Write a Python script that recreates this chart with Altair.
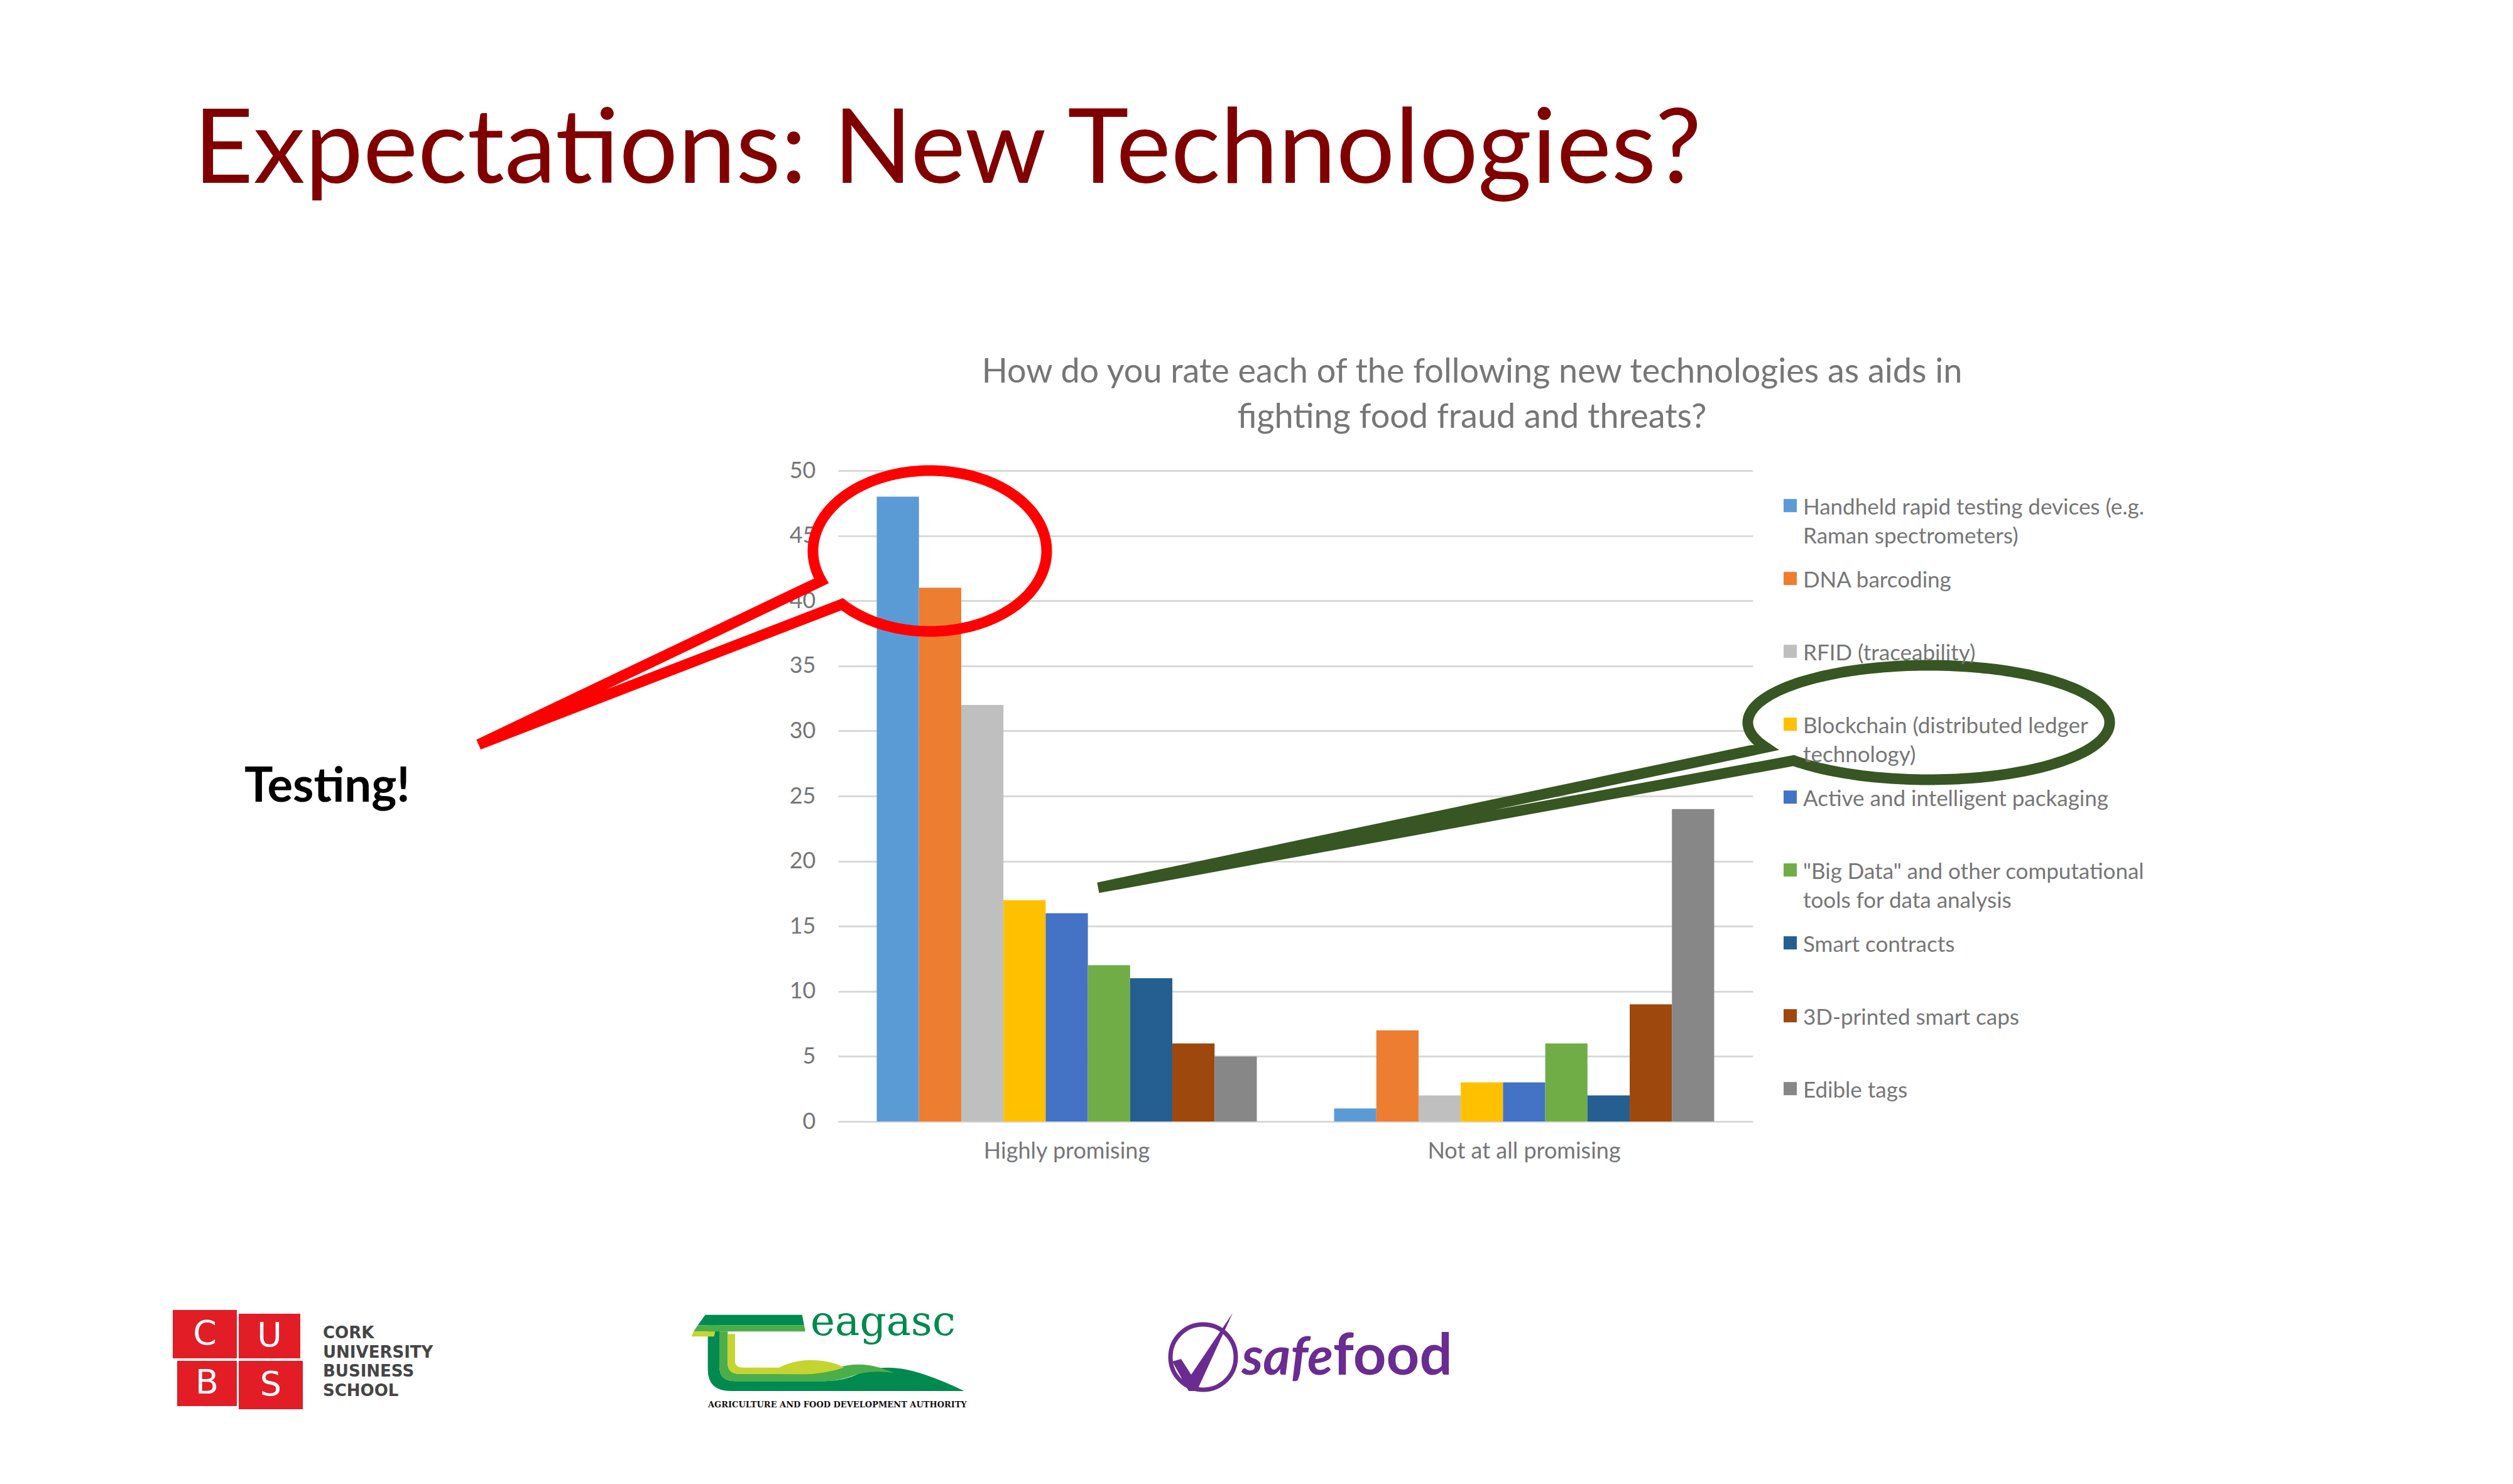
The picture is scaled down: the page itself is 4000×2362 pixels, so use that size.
import json
import math
import altair as alt
import pandas as pd

# ---------------- data ----------------
CATEGORIES = ["Highly promising", "Not at all promising"]
TECHNOLOGIES = [
    "Handheld rapid testing devices (e.g. Raman spectrometers)",
    "DNA barcoding",
    "RFID (traceability)",
    "Blockchain (distributed ledger technology)",
    "Active and intelligent packaging",
    "\"Big Data\" and other computational tools for data analysis",
    "Smart contracts",
    "3D-printed smart caps",
    "Edible tags",
]
HIGHLY_PROMISING = [48, 41, 32, 17, 16, 12, 11, 6, 5]
NOT_AT_ALL_PROMISING = [1, 7, 2, 3, 3, 6, 2, 9, 24]
COLORS = ["#5B9BD5", "#ED7D31", "#BFBFBF", "#FFC000", "#4472C4",
          "#70AD47", "#255E91", "#9E480E", "#878787"]
Y_TICKS = list(range(0, 51, 5))
LEGEND_WRAP = {
    TECHNOLOGIES[0]: ["Handheld rapid testing devices (e.g.", "Raman spectrometers)"],
    TECHNOLOGIES[3]: ["Blockchain (distributed ledger", "technology)"],
    TECHNOLOGIES[5]: ["\"Big Data\" and other computational", "tools for data analysis"],
}
SLIDE_TITLE = "Expectations: New Technologies?"
CHART_TITLE = ["How do you rate each of the following new technologies as aids in",
               "fighting food fraud and threats?"]
NOTE = "Testing!"
CUBS_LINES = ["CORK", "UNIVERSITY", "BUSINESS", "SCHOOL"]

rows = []
for cat, vals in zip(CATEGORIES, [HIGHLY_PROMISING, NOT_AT_ALL_PROMISING]):
    for tech, v in zip(TECHNOLOGIES, vals):
        rows.append({"category": cat, "technology": tech, "count": v})
df = pd.DataFrame(rows)

# ---------------- layout ----------------
OX, OY = 1334, 749      # plot-area origin on the page
PW, PH = 1456, 1036     # plot-area size
GRAY = "#767676"
GRID = "#D9D9D9"


def X(px):
    return px - OX


def Y(py):
    return py - OY


def one():
    return pd.DataFrame({"k": [0]})


def text_mark(text, x, y, **kw):
    return alt.Chart(pd.DataFrame({"t": [text]})).mark_text(**kw).encode(
        text="t:N", x=alt.value(X(x)), y=alt.value(Y(y)))


def shape_mark(path, x, y, scale=1.0, **kw):
    return alt.Chart(one()).mark_point(shape=path, size=4 * scale * scale,
                                       opacity=1, **kw).encode(
        x=alt.value(X(x)), y=alt.value(Y(y)))


def rect_mark(x1, y1, x2, y2, color):
    return alt.Chart(one()).mark_rect(color=color).encode(
        x=alt.value(X(x1)), x2=alt.value(X(x2)),
        y=alt.value(Y(y1)), y2=alt.value(Y(y2)))


def callout_path(rx, ry, p1, p2, tip, n=180):
    a1 = math.atan2(p1[1] / ry, p1[0] / rx)
    a2 = math.atan2(p2[1] / ry, p2[0] / rx)
    if a2 < a1:
        a2 += 2 * math.pi
    pts = []
    for i in range(n + 1):
        a = a1 + (a2 - a1) * i / n
        pts.append((rx * math.cos(a), ry * math.sin(a)))
    d = "M" + " L".join(f"{x:.1f},{y:.1f}" for x, y in pts)
    d += f" L{tip[0]:.1f},{tip[1]:.1f} Z"
    return d


# legend label expression (two lines each)
expr = ""
for name, (l1, l2) in LEGEND_WRAP.items():
    expr += f"datum.label === {json.dumps(name)} ? [{json.dumps(l1)}, {json.dumps(l2)}] : "
expr += "[datum.label, '']"

SYM = 21.0
shift = 14.2 / (SYM / 2)
SQUARE = f"M-1,{-1 + shift:.3f} L1,{-1 + shift:.3f} L1,{1 + shift:.3f} L-1,{1 + shift:.3f} Z"

bars = alt.Chart(df).mark_bar().encode(
    x=alt.X("category:N", sort=CATEGORIES, title=None,
            scale=alt.Scale(paddingInner=0.169, paddingOuter=0.0845),
            axis=alt.Axis(labelAngle=0, labelFont="Lato", labelFontSize=36,
                          labelColor=GRAY, labelPadding=30, ticks=False,
                          labelLimit=1000,
                          domainColor=GRID, domainWidth=3, grid=False)),
    xOffset=alt.XOffset("technology:N", sort=TECHNOLOGIES,
                        scale=alt.Scale(paddingInner=0, paddingOuter=0)),
    y=alt.Y("count:Q", title=None, scale=alt.Scale(domain=[0, 50], nice=False),
            axis=alt.Axis(values=Y_TICKS, domain=False, ticks=False,
                          labelPadding=36, labelFont="Lato", labelFontSize=36,
                          labelColor=GRAY, gridColor=GRID, gridWidth=3)),
    color=alt.Color("technology:N", sort=TECHNOLOGIES,
                    scale=alt.Scale(domain=TECHNOLOGIES, range=COLORS),
                    legend=alt.Legend(title=None, orient="none", legendX=1498,
                                      legendY=24, symbolType=SQUARE,
                                      symbolSize=SYM * SYM, symbolStrokeWidth=0,
                                      symbolOpacity=1, labelFont="Lato",
                                      labelFontSize=35, labelColor=GRAY,
                                      labelBaseline="top", labelOffset=3,
                                      labelLimit=3000, rowPadding=17, padding=0,
                                      labelExpr=expr)),
)

layers = [bars]

# titles and note
layers.append(text_mark(SLIDE_TITLE, 308, 291, align="left", baseline="alphabetic",
                        font="Lato", fontSize=165, color="#800000"))
layers.append(text_mark("\n".join(CHART_TITLE), 2343, 609 - 0.79 * 54, align="center",
                        baseline="top", font="Lato", fontSize=54, color=GRAY,
                        lineBreak="\n", lineHeight=72))
layers.append(text_mark(NOTE, 389, 1276, align="left", baseline="alphabetic",
                        font="Lato", fontSize=76, fontWeight="bold", color="#000000"))

# callouts
red = callout_path(186, 128, (-174, 48), (-140, 85), (-718, 308))
layers.append(shape_mark(red, 1480, 877, filled=False, color="#FF0000",
                         strokeWidth=17, strokeJoin="miter"))
green = callout_path(288, 91, (-262, 40), (-220, 62), (-1322, 263))
layers.append(shape_mark(green, 3070, 1150, filled=False, color="#375623",
                         strokeWidth=17, strokeJoin="miter"))

# CUBS logo
CUBS_RED = "#E21D26"
for (x1, y1, x2, y2, letter) in [(275, 2085, 377, 2162, "C"), (380, 2091, 478, 2162, "U"),
                                 (282, 2166, 377, 2238, "B"), (380, 2166, 482, 2243, "S")]:
    layers.append(rect_mark(x1, y1, x2, y2, CUBS_RED))
    layers.append(text_mark(letter, (x1 + x2) / 2, (y1 + y2) / 2, align="center",
                            baseline="middle", font="DejaVu Sans", fontSize=54,
                            color="#FFFFFF"))
for i, line in enumerate(CUBS_LINES):
    layers.append(text_mark(line, 514, 2130 + i * 30.5, align="left",
                            baseline="alphabetic", font="DejaVu Sans", fontSize=26,
                            fontWeight="bold", color="#454545"))

# Teagasc logo (shapes in 1/3 px units from its corner)
TG_DARK, TG_LIGHT, TG_YEL = "#008A4F", "#4CAE4B", "#C6D42F"
tg = [
    ("M128,68 L590,68 L600,118 L92,118 Z", TG_DARK),
    ("M140,118 L195,118 L195,315 Q195,385 270,385 L700,385 Q790,385 870,345 "
     "Q960,310 1060,325 Q1170,340 1365,432 L250,432 Q140,432 140,330 Z", TG_DARK),
    ("M92,118 L600,118 L606,148 L72,148 Z", TG_LIGHT),
    ("M195,148 L235,148 L235,300 Q235,350 290,350 L520,350 Q640,350 760,320 "
     "Q860,290 960,320 L1030,345 Q900,330 830,360 Q760,385 700,385 L270,385 "
     "Q195,385 195,315 Z", TG_LIGHT),
    ("M72,148 L175,148 L170,172 L62,172 Z", TG_YEL),
    ("M235,160 L270,160 L270,290 Q270,320 310,320 L480,320 Q560,280 650,285 "
     "Q740,290 790,320 Q700,350 600,352 L290,350 Q235,350 235,300 Z", TG_YEL),
]
for path, col in tg:
    layers.append(shape_mark(path, 1080, 2070, scale=1 / 3, filled=True, color=col,
                             strokeWidth=0))
layers.append(text_mark("eagasc", 1290, 2125, align="left", baseline="alphabetic",
                        font="DejaVu Serif", fontSize=66, color=TG_DARK))
layers.append(text_mark("AGRICULTURE AND FOOD DEVELOPMENT AUTHORITY", 1127, 2240,
                        align="left", baseline="alphabetic", font="DejaVu Serif",
                        fontSize=13, fontWeight="bold", color="#111111"))

# safefood logo
PURPLE = "#6A2C91"
layers.append(alt.Chart(one()).mark_point(shape="circle", size=104 * 104, opacity=1,
                                          filled=False, color=PURPLE, strokeWidth=7)
              .encode(x=alt.value(X(1915)), y=alt.value(Y(2160))))
layers.append(shape_mark("M-49,7 L-35,3 L-19,28 L47,-70 L-10,54 L-23,54 Z", 1915, 2160,
                         filled=True, color=PURPLE, strokeWidth=0))
layers.append(text_mark("safe", 2122, 2188, align="right", baseline="alphabetic",
                        font="Lato", fontSize=84, fontWeight="bold", fontStyle="italic",
                        color=PURPLE))
layers.append(text_mark("food", 2122, 2188, align="left", baseline="alphabetic",
                        font="Lato", fontSize=92, fontWeight="bold", color=PURPLE))

chart = alt.layer(*layers).properties(
    width=PW, height=PH,
    autosize=alt.AutoSizeParams(type="none"),
    padding={"left": OX - 8, "top": OY - 8, "right": 3984 - (OX - 8) - PW - 2,
             "bottom": 2346 - (OY - 8) - PH - 4},
).configure(
    background="white",
    style={"guide-label": {"lineHeight": 46}},
).configure_view(stroke=None)

chart.save("out.html", embed_options={"renderer": "svg", "actions": False})
